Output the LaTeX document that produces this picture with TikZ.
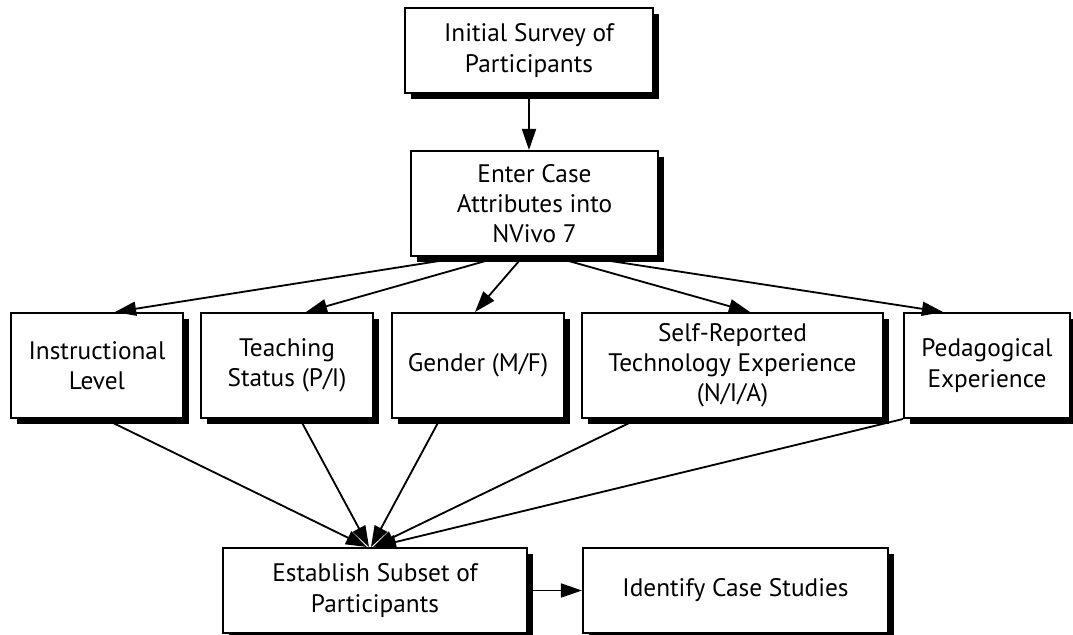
\documentclass[tikz,border=0pt]{standalone}
\usepackage{fontspec}
\setmainfont{PT Sans}
\usetikzlibrary{arrows.meta, shadows, calc}
\tikzset{
  flowbox/.style={rectangle, draw=black, line width=1.4pt, fill=white,
                drop shadow={shadow xshift=4pt, shadow yshift=-4pt,
                             fill=black, opacity=1},
                align=center, inner sep=2pt,
                font=\fontsize{18}{21.5}\selectfont},
  flowarrow/.style={-{Triangle[length=15pt, width=10pt]}, line width=1.3pt, #1},
  flowarrow/.default={},
}

\begin{document}
\begin{tikzpicture}[x=0.025cm, y=-0.025cm]
    % Coordinate map (units of 0.025cm, y grows downwards):
    % (survey)    at (529, 50.5)   -- top box
    % (enter)     at (534.5, 203.5)
    % (instr) .. (ped)  middle row at y = 365.5
    % (establish) at (375, 590.5), (identify) at (735.5, 590.5)
    \useasboundingbox (0,0) rectangle (1073,635);

    \node[flowbox, minimum width=6.2cm, minimum height=2.125cm] (survey) at (529, 50.5) {Initial Survey of\\Participants};
    \node[flowbox, minimum width=6.175cm, minimum height=2.625cm] (enter) at (534.5, 203.5) {Enter Case\\Attributes into\\NVivo 7};

    \node[flowbox, minimum width=4.3cm, minimum height=2.625cm] (instr) at (97, 365.5) {Instructional\\Level};
    \node[flowbox, minimum width=4.3cm, minimum height=2.625cm] (teach) at (287, 365.5) {Teaching\\Status (P/I)};
    \node[flowbox, minimum width=4.3cm, minimum height=2.625cm] (gender) at (478, 365.5) {Gender (M/F)};
    \node[flowbox, minimum width=7.525cm, minimum height=2.625cm] (tech) at (732.5, 365.5) {Self-Reported\\Technology Experience\\(N/I/A)};
    \node[flowbox, minimum width=4.15cm, minimum height=2.625cm] (ped) at (987, 365.5) {Pedagogical\\Experience};

    \node[flowbox, minimum width=7.6cm, minimum height=2.125cm] (establish) at (375, 590.5) {Establish Subset of\\Participants};
    \node[flowbox, minimum width=7.625cm, minimum height=2.125cm] (identify) at (735.5, 590.5) {Identify Case Studies};

    \draw[flowarrow] (survey.south) -- (survey.south |- enter.north);

    \draw[flowarrow] ($(enter.south)+(-70,0)$) -- ($(instr.north)+(18,0)$);
    \draw[flowarrow] ($(enter.south)+(-35,0)$) -- ($(teach.north)+(19,0)$);
    \draw[flowarrow] ($(enter.south)+(-12,0)$) -- ($(gender.north)+(-3,0)$);
    \draw[flowarrow] ($(enter.south)+(20,0)$) -- ($(tech.north)+(17.5,0)$);
    \draw[flowarrow] ($(enter.south)+(50,0)$) -- ($(ped.north)+(-44,0)$);

    \draw[flowarrow] ($(instr.south)+(8,0)$) -- ($(establish.north)+(-8,0)$);
    \draw[flowarrow] ($(teach.south)+(13,0)$) -- ($(establish.north)+(-6,0)$);
    \draw[flowarrow] ($(gender.south)+(-38,0)$) -- ($(establish.north)+(-4,0)$);
    \draw[flowarrow] ($(tech.south)+(-95,0)$) -- ($(establish.north)+(-2,0)$);
    \draw[flowarrow] (ped.south west) -- (establish.north);

    \draw[flowarrow] (establish.east) -- (identify.west);
\end{tikzpicture}
\end{document}
